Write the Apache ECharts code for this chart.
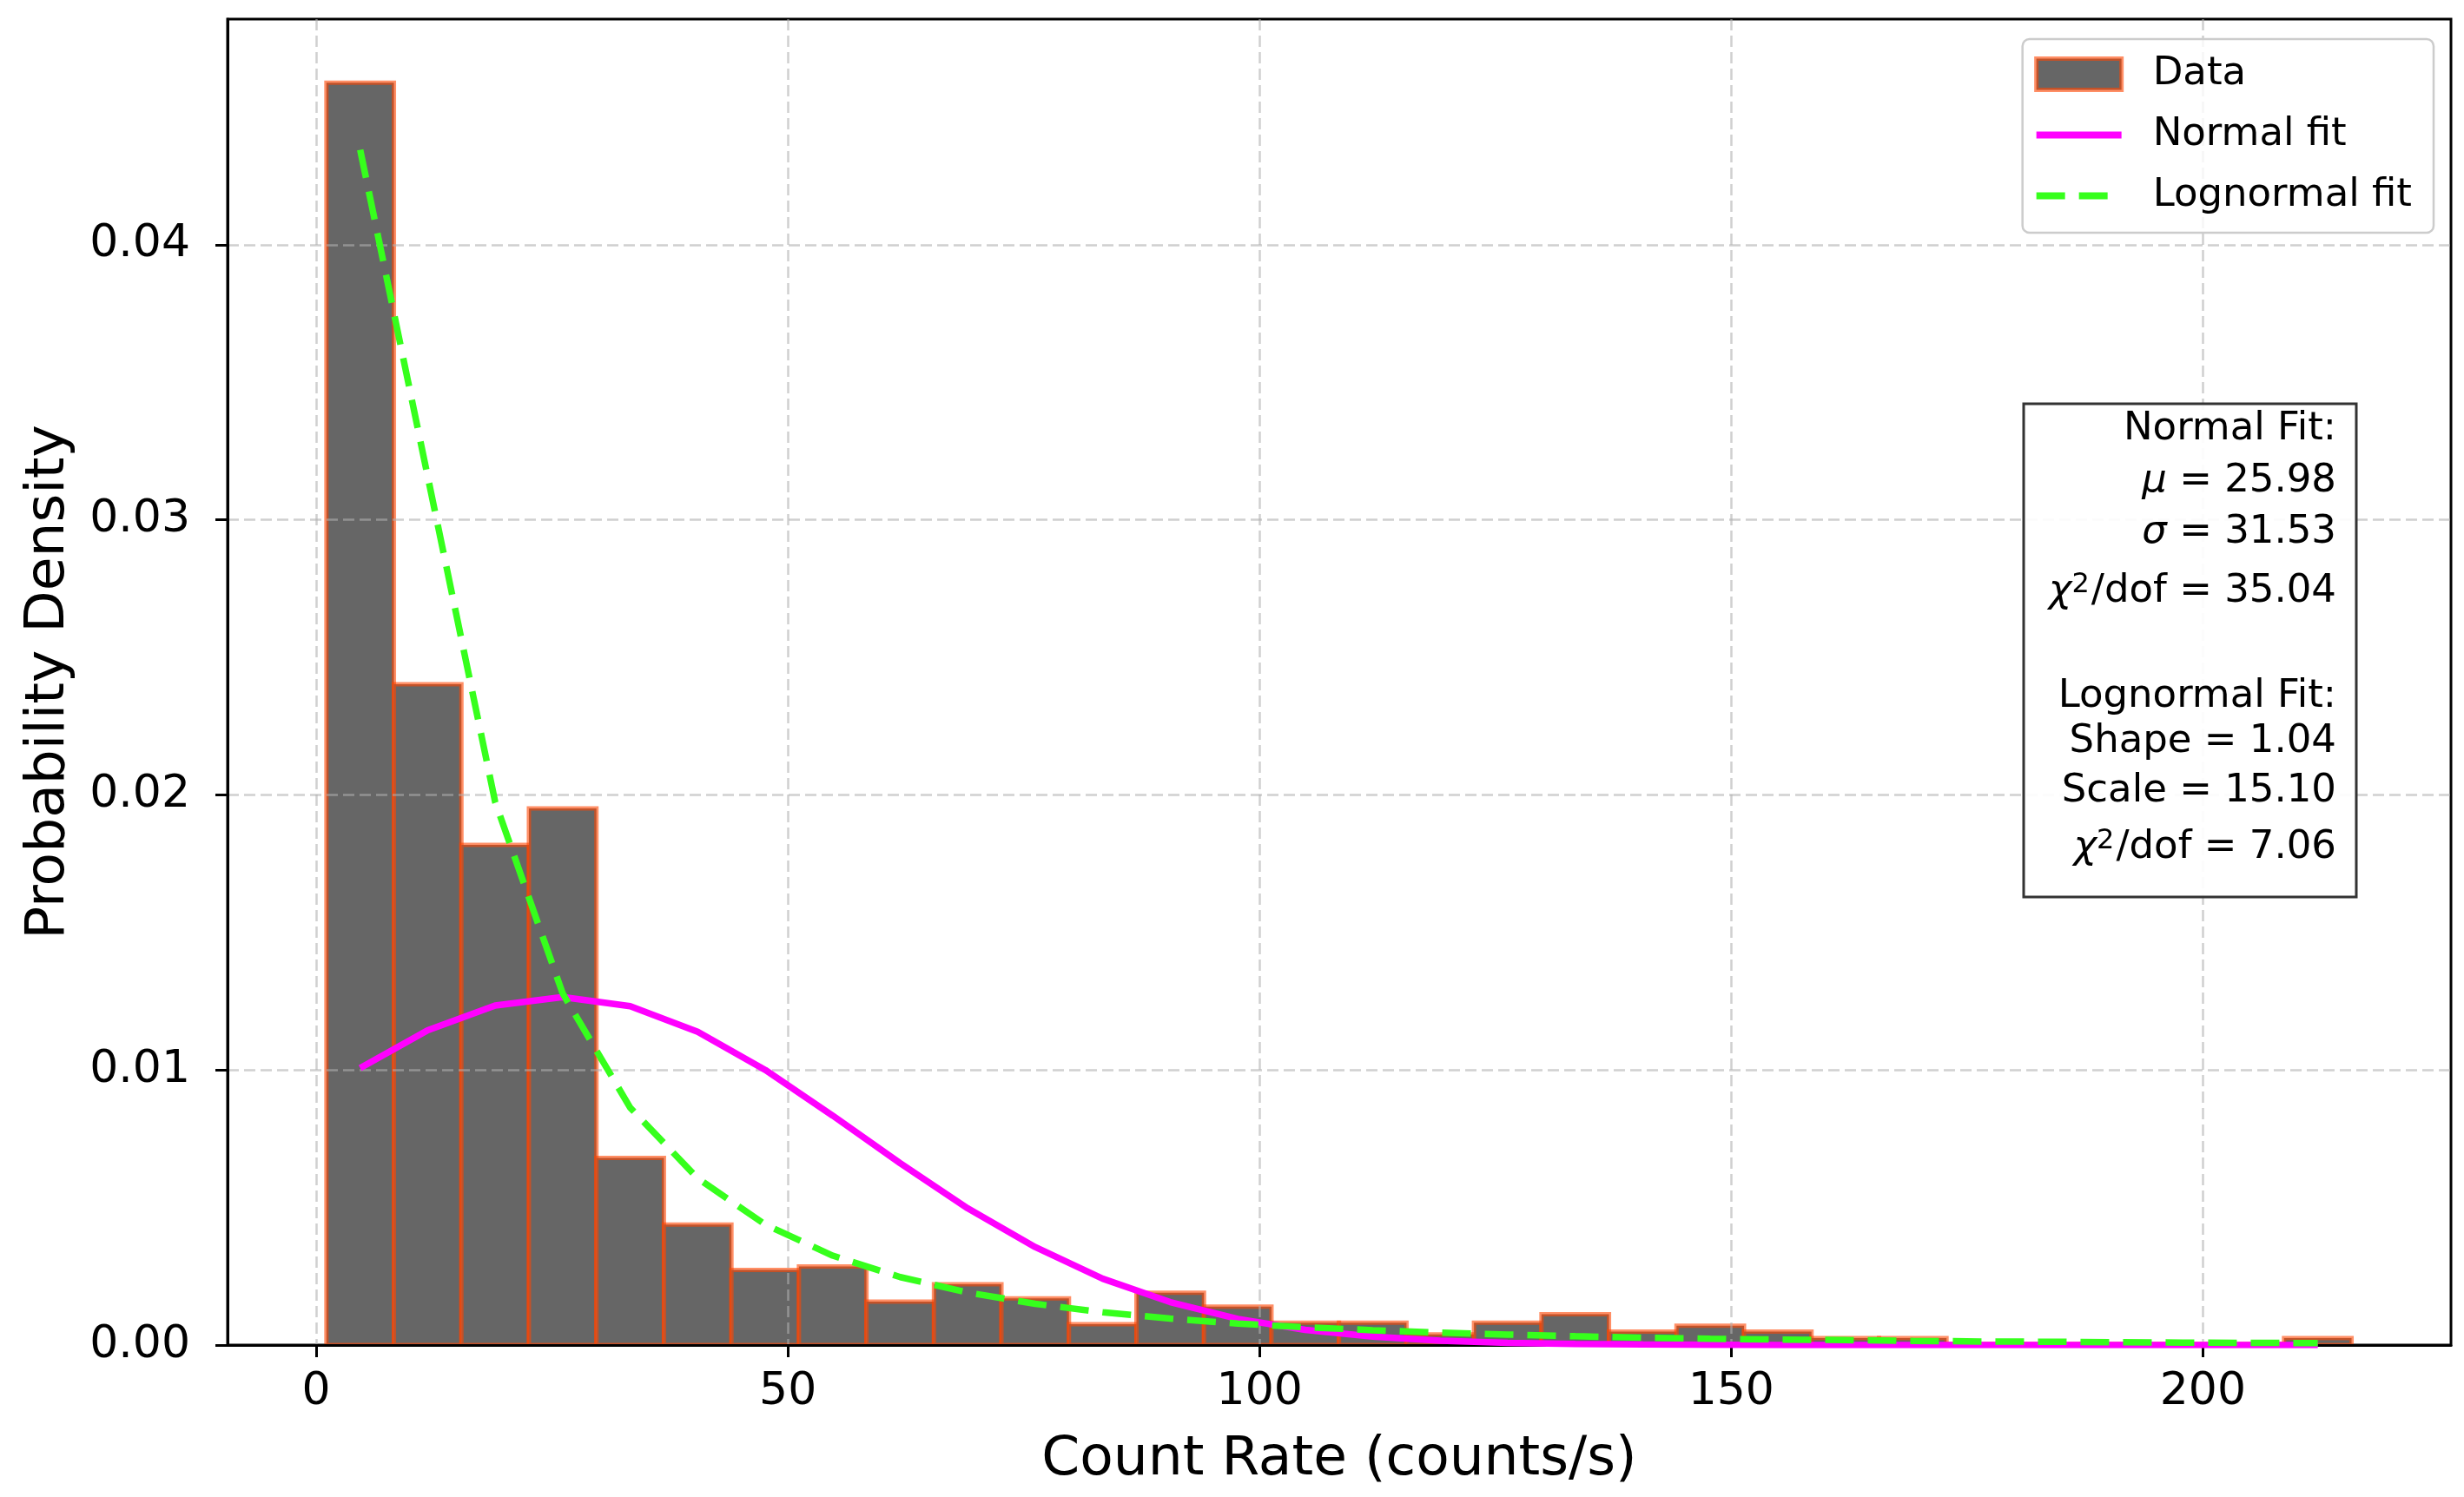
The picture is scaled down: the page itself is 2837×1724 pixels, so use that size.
<!DOCTYPE html>
<html>
<head>
<meta charset="utf-8">
<script src="https://cdn.jsdelivr.net/npm/echarts@6/dist/echarts.min.js"></script>
<style>
html,body{margin:0;padding:0;background:#ffffff;}
#chart{width:2837px;height:1724px;}
</style>
</head>
<body>
<div id="chart"></div>
<script>
// ---------- data ----------
const binEdges = [1.08, 8.236, 15.392, 22.548, 29.704, 36.86, 44.016, 51.172, 58.328, 65.484,
  72.64, 79.796, 86.952, 94.108, 101.264, 108.42, 115.576, 122.732, 129.888, 137.044,
  144.2, 151.356, 158.512, 165.668, 172.824, 179.98, 187.136, 194.292, 201.448, 208.604, 215.76];

const densityValues = [0.04589, 0.02402, 0.01818, 0.01951, 0.0068, 0.00438, 0.00273, 0.00286, 0.00158, 0.00221,
  0.0017, 0.00076, 0.0019, 0.0014, 0.00081, 0.00081, 0.00039, 0.00081, 0.00112, 0.00049,
  0.0007, 0.00049, 0.00025, 0.00025, 0.00005, 0.00005, 0.00005, 0.00005, 0.00005, 0.00025];

const fitX = [4.66, 11.82, 18.97, 26.13, 33.28, 40.44, 47.6, 54.75, 61.91, 69.06,
  76.22, 83.38, 90.53, 97.69, 104.84, 112.0, 119.16, 126.31, 133.47, 140.62,
  147.78, 154.94, 162.09, 169.25, 176.4, 183.56, 190.72, 197.87, 205.03, 212.18];

const normalFit = [0.01007, 0.01144, 0.01234, 0.01265, 0.01232, 0.01139, 0.01000, 0.00834, 0.00661, 0.00497,
  0.00356, 0.00241, 0.00156, 0.00095, 0.00055, 0.00031, 0.00016, 0.00008, 0.00004, 0.00002,
  0.00001, 0.0, 0.0, 0.0, 0.0, 0.0, 0.0, 0.0, 0.0, 0.0];

const lognormalFit = [0.04345, 0.03157, 0.01974, 0.01278, 0.00863, 0.00606, 0.00438, 0.00325, 0.00247, 0.00191,
  0.0015, 0.00119, 0.00096, 0.00078, 0.00065, 0.00054, 0.00045, 0.00038, 0.00032, 0.00027,
  0.00023, 0.0002, 0.00018, 0.00015, 0.00013, 0.00012, 0.0001, 0.00009, 0.00008, 0.00007];

const xTicks = [0, 50, 100, 150, 200];
const yTicks = [0, 0.01, 0.02, 0.03, 0.04];

const seriesNames = ['Data', 'Normal fit', 'Lognormal fit'];
const xAxisTitle = 'Count Rate (counts/s)';
const yAxisTitle = 'Probability Density';

const statsLines = [
  'Normal Fit:',
  '{i|μ} = 25.98',
  '{i|σ} = 31.53',
  '{i|χ}{sup|2}/dof = 35.04',
  'Lognormal Fit:',
  'Shape = 1.04',
  'Scale = 15.10',
  '{i|χ}{sup|2}/dof = 7.06'
];
const statsLineY = [494, 554, 613, 681, 802, 854, 911, 976];

// ---------- chart ----------
const FONT = '"DejaVu Sans", "Noto Sans", sans-serif';
const BAR_FILL = '#666666';
const BAR_EDGE = 'rgba(255,69,0,0.6)';
const GRID_COLOR = 'rgba(176,176,176,0.6)';
const NORMAL_COLOR = '#ff00ff';
const LOGN_COLOR = '#36ff1c';
const LOGN_DASH = [33, 16];

const chart = echarts.init(document.getElementById('chart'), null, {renderer: 'canvas'});

const histData = densityValues.map((v, i) => [binEdges[i], binEdges[i + 1], v]);

const statsGraphics = [{
  type: 'rect',
  shape: {x: 2330, y: 465, width: 383, height: 568},
  style: {fill: 'rgba(255,255,255,0.9)', stroke: '#333333', lineWidth: 3},
  z: 100
}].concat(statsLines.map((t, i) => ({
  type: 'text',
  x: 2690,
  y: statsLineY[i],
  z: 101,
  style: {
    text: t,
    align: 'right',
    verticalAlign: 'middle',
    fontSize: 45,
    fontFamily: FONT,
    fill: '#000000',
    rich: {
      i: {fontStyle: 'italic', fontSize: 45, fontFamily: FONT, fill: '#000000'},
      sup: {fontSize: 32, fontFamily: FONT, fill: '#000000', verticalAlign: 'top', padding: [0, 2, 14, 0]}
    }
  }
})));

chart.setOption({
  animation: false,
  backgroundColor: '#ffffff',
  grid: {
    left: 262, right: 15, top: 22, bottom: 175,
    show: true, borderColor: '#000000', borderWidth: 3, backgroundColor: 'transparent'
  },
  legend: {
    orient: 'vertical',
    right: 35,
    top: 45,
    padding: [18, 25, 20, 12],
    itemWidth: 98,
    itemHeight: 36,
    itemGap: 25,
    backgroundColor: 'rgba(255,255,255,0.8)',
    borderColor: '#cccccc',
    borderWidth: 2.5,
    borderRadius: 8,
    selectedMode: false,
    textStyle: {fontSize: 45, fontFamily: FONT, color: '#000000', padding: [0, 0, 0, 31]},
    data: [
      {name: seriesNames[0], icon: 'rect', itemStyle: {color: BAR_FILL, borderColor: BAR_EDGE, borderWidth: 5}},
      {name: seriesNames[1], itemStyle: {opacity: 0}, lineStyle: {color: NORMAL_COLOR, width: 8, type: 'solid', opacity: 1}},
      {name: seriesNames[2], itemStyle: {opacity: 0}, lineStyle: {color: LOGN_COLOR, width: 8, type: LOGN_DASH, opacity: 1}}
    ]
  },
  xAxis: {
    type: 'value',
    min: -9.4,
    max: 226.3,
    z: 3,
    name: xAxisTitle,
    nameLocation: 'middle',
    nameGap: 101,
    nameTextStyle: {fontSize: 63, fontFamily: FONT, color: '#000000'},
    axisLine: {show: true, onZero: false, lineStyle: {color: '#000000', width: 3}},
    axisTick: {show: true, inside: false, length: 14, lineStyle: {color: '#000000', width: 3}, customValues: xTicks},
    axisLabel: {customValues: xTicks, fontSize: 52, fontFamily: FONT, color: '#000000', margin: 28,
      formatter: v => String(v)},
    splitLine: {show: true, lineStyle: {color: GRID_COLOR, width: 2.5, type: [13, 6]}}
  },
  yAxis: {
    type: 'value',
    min: 0,
    max: 0.0482,
    z: 3,
    name: yAxisTitle,
    nameLocation: 'middle',
    nameGap: 174,
    nameRotate: 90,
    nameTextStyle: {fontSize: 63, fontFamily: FONT, color: '#000000'},
    axisLine: {show: true, onZero: false, lineStyle: {color: '#000000', width: 3}},
    axisTick: {show: true, inside: false, length: 14, lineStyle: {color: '#000000', width: 3}, customValues: yTicks},
    axisLabel: {customValues: yTicks, fontSize: 52, fontFamily: FONT, color: '#000000', margin: 43,
      formatter: v => Number(v).toFixed(2)},
    splitLine: {show: true, lineStyle: {color: GRID_COLOR, width: 2.5, type: [13, 6]}}
  },
  series: [
    {
      type: 'custom',
      name: seriesNames[0],
      silent: true,
      z: 2,
      clip: true,
      encode: {x: [0, 1], y: 2},
      itemStyle: {color: BAR_FILL, borderColor: BAR_EDGE, borderWidth: 5},
      data: histData,
      renderItem: function (params, api) {
        const p0 = api.coord([api.value(0), api.value(2)]);
        const p1 = api.coord([api.value(1), 0]);
        return {
          type: 'rect',
          shape: {x: p0[0], y: p0[1], width: p1[0] - p0[0], height: p1[1] - p0[1]},
          style: {fill: BAR_FILL, stroke: BAR_EDGE, lineWidth: 5}
        };
      }
    },
    {
      type: 'line',
      name: seriesNames[1],
      silent: true,
      z: 5,
      symbol: 'none',
      smooth: false,
      data: fitX.map((x, i) => [x, normalFit[i]]),
      lineStyle: {color: NORMAL_COLOR, width: 7.5},
      itemStyle: {color: NORMAL_COLOR}
    },
    {
      type: 'line',
      name: seriesNames[2],
      silent: true,
      z: 6,
      symbol: 'none',
      smooth: false,
      data: fitX.map((x, i) => [x, lognormalFit[i]]),
      lineStyle: {color: LOGN_COLOR, width: 7.5, type: LOGN_DASH},
      itemStyle: {color: LOGN_COLOR}
    }
  ],
  graphic: statsGraphics
});
</script>
</body>
</html>
